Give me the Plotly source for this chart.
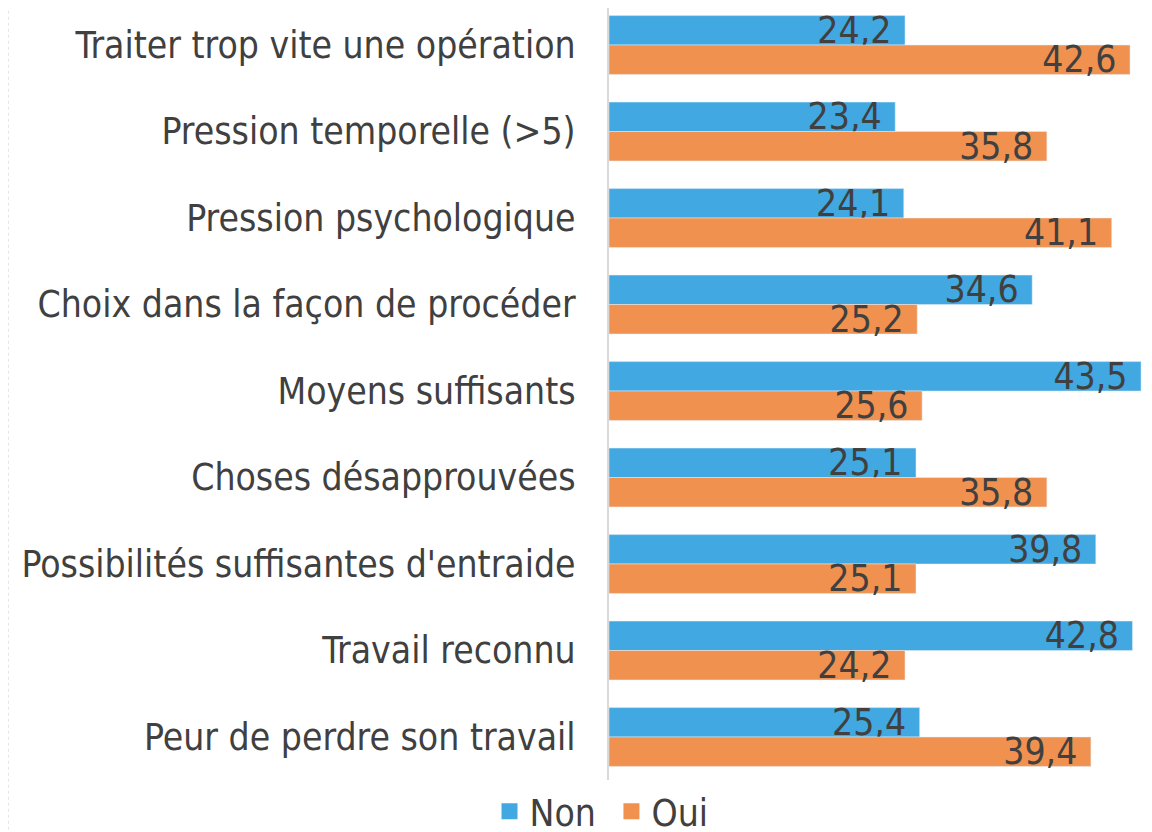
import plotly.graph_objects as go

categories = [
    "Traiter trop vite une opération",
    "Pression temporelle (>5)",
    "Pression psychologique",
    "Choix dans la façon de procéder",
    "Moyens suffisants",
    "Choses désapprouvées",
    "Possibilités suffisantes d'entraide",
    "Travail reconnu",
    "Peur de perdre son travail",
]
non_values = [24.2, 23.4, 24.1, 34.6, 43.5, 25.1, 39.8, 42.8, 25.4]
oui_values = [42.6, 35.8, 41.1, 25.2, 25.6, 35.8, 25.1, 24.2, 39.4]

FONT = "DejaVu Sans Condensed"
TEXT = "#404040"
BLUE = "#41A8E1"
ORANGE = "#F0914F"


def labels(vals):
    # comma decimal, small gap before the bar end
    return [f"{v:.1f}".replace(".", ",") + "\u00a0" for v in vals]


fig = go.Figure()
for name, vals, color in (("Non", non_values, BLUE), ("Oui", oui_values, ORANGE)):
    fig.add_trace(go.Bar(
        y=categories, x=vals, name=name, orientation="h",
        marker_color=color, text=labels(vals), showlegend=False,
        textposition="inside", insidetextanchor="end", constraintext="none",
        textfont=dict(family=FONT, size=37, color=TEXT),
    ))
# legend entries with bigger square swatches
for name, color in (("Non\u00a0", BLUE), ("Oui", ORANGE)):
    fig.add_trace(go.Scatter(
        x=[None], y=[None], mode="markers", name=name,
        marker=dict(symbol="square", size=21, color=color),
    ))

# the page body adds an 8px offset, so the plot starts at the very top
fig.update_layout(
    width=1152, height=832,
    barmode="group", bargap=0.32, bargroupgap=0,
    margin=dict(l=601, r=0, t=0, b=60, autoexpand=False),
    plot_bgcolor="white", paper_bgcolor="white",
    font=dict(family=FONT, size=37, color=TEXT),
    legend=dict(orientation="h", x=-0.0136, xanchor="center",
                yref="container", y=0.034, yanchor="middle",
                font=dict(size=37, color=TEXT), traceorder="normal",
                itemwidth=30, tracegroupgap=0),
)
fig.update_xaxes(range=[0, 45.05], showticklabels=False, showgrid=False,
                 zeroline=False, showline=False)
fig.update_yaxes(range=[8.497, -0.428], showgrid=False, zeroline=False,
                 showline=True, linecolor="#d9d9d9", linewidth=2,
                 ticks="", ticklabelstandoff=24, automargin=False,
                 tickfont=dict(family=FONT, size=37, color=TEXT))

# faint frame edge on the left
fig.add_shape(type="line", xref="paper", yref="paper",
              x0=-601 / 551, x1=-601 / 551, y0=-0.08, y1=1.0,
              line=dict(color="#e6e6e6", width=2, dash="dot"))

fig.write_html("out.html")
